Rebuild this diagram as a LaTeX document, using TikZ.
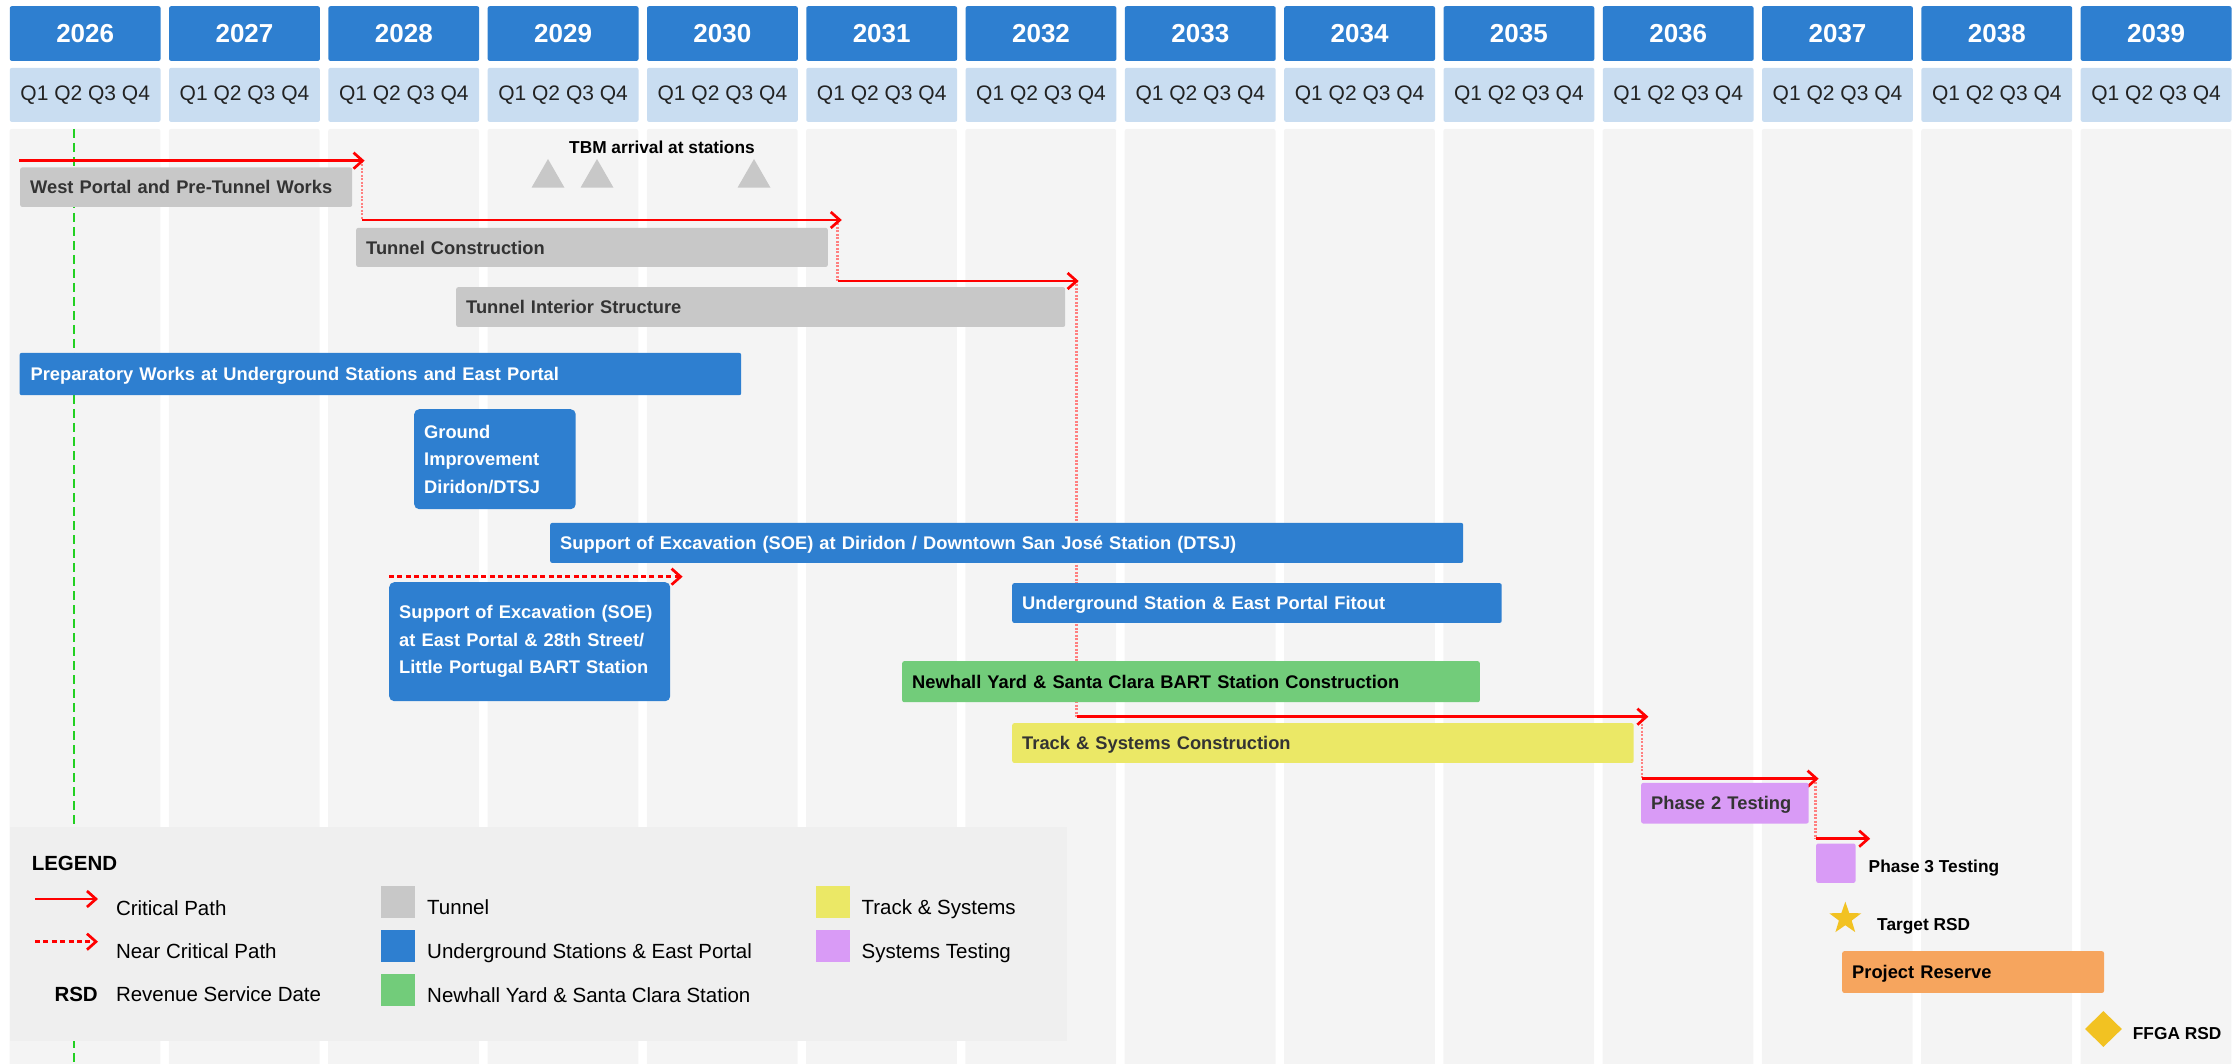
\documentclass[tikz,border=0pt]{standalone}
\usepackage{fontspec}
\setmainfont{Liberation Sans}
\usetikzlibrary{arrows.meta,shapes.geometric}

\definecolor{hdrblue}{HTML}{2E7FD0}
\definecolor{qtrblue}{HTML}{C9DDF1}
\definecolor{qtrtext}{HTML}{222222}
\definecolor{colbg}{HTML}{F4F4F4}
\definecolor{legbg}{HTML}{EFEFEF}
\definecolor{tunnelgray}{HTML}{C8C8C8}
\definecolor{stagreen}{HTML}{72CC7A}
\definecolor{trackyellow}{HTML}{EBE866}
\definecolor{testpurple}{HTML}{D99BF6}
\definecolor{reserveorange}{HTML}{F6A55E}
\definecolor{msgold}{HTML}{F2C222}
\definecolor{nowgreen}{HTML}{22D022}
\definecolor{critred}{HTML}{FF0000}
\definecolor{textdark}{HTML}{333333}

\newcommand{\barfont}{\fontsize{18.3pt}{27.5pt}\selectfont\bfseries}

\tikzset{
  yearbox/.style={anchor=north west, fill=hdrblue, rounded corners=2pt, minimum width=150.8pt,
    minimum height=54.7pt, inner sep=0pt, text=white, font=\fontsize{26pt}{30pt}\selectfont\bfseries},
  qtrbox/.style={anchor=north west, fill=qtrblue, rounded corners=2pt, minimum width=150.8pt,
    minimum height=54pt, inner sep=0pt, text=qtrtext, font=\fontsize{21pt}{25pt}\selectfont},
  bar/.style={anchor=north west, rounded corners=2pt, inner xsep=10pt, inner ysep=0pt,
    align=left, text height=13.5pt, text depth=0pt, font=\barfont},
  tallbar/.style={anchor=north west, rounded corners=5pt, fill=hdrblue, text=white,
    inner xsep=10pt, inner ysep=0pt, align=left, font=\barfont},
  crit/.style={draw=critred, line width=2.7pt, -{Straight Barb[length=9pt,width=16pt]}},
  nearcrit/.style={crit, dash pattern=on 5pt off 3.4pt},
  droplink/.style={draw=critred!50, line width=2.8pt, dash pattern=on 2pt off 1.5pt},
  nowline/.style={draw=nowgreen, line width=2pt, dash pattern=on 9pt off 5pt},
  mslabel/.style={anchor=base west, inner sep=0pt, font=\fontsize{17.3pt}{20pt}\selectfont\bfseries},
  legtitle/.style={anchor=base west, inner sep=0pt, font=\fontsize{20.5pt}{24pt}\selectfont\bfseries},
  legtext/.style={anchor=base west, inner sep=0pt, font=\fontsize{20.5pt}{24pt}\selectfont},
  swatch/.style={anchor=north west, minimum width=34pt, minimum height=32pt, inner sep=0pt},
}

\begin{document}
\begin{tikzpicture}[x=1pt,y=-1pt]
  \useasboundingbox (0,0) rectangle (2236,1064);
  \foreach \i in {0,...,13}{
    \pgfmathsetmacro{\xl}{9.6+159.3*\i}
    \pgfmathtruncatemacro{\yr}{2026+\i}
    \fill[colbg,rounded corners=2pt] (\xl,129) rectangle ++(150.8,950);
    \node[yearbox] (y\yr) at (\xl,6) {\yr};
    \node[qtrbox] (q\yr) at (\xl,67.7) {Q1 Q2 Q3 Q4};
  }
  \coordinate (now top) at (74,129);
  \coordinate (now bot) at (74,1064);
  \draw[nowline] (now top) -- (now bot);

  \foreach \n/\x/\y in {s1/19/160.7, e1/364.6/160.7, s2/362/220, e2/841.8/220,
    s3/837.8/281, e3/1078.6/281, s4/1076.5/716.7, e4/1648.4/716.7,
    s5/1642/778.7, e5/1818.6/778.7, s6/1815.5/838.7, e6/1870.2/838.7,
    n1/389/576.7, n2/682.6/576.7}
    \coordinate (\n) at (\x,\y);
  \draw[droplink] (s2 |- e1) -- (s2);
  \draw[droplink] (s3 |- e2) -- (s3);
  \draw[droplink] (s4 |- e3) -- (s4);
  \draw[droplink] (s5 |- e4) -- (s5);
  \draw[droplink] (s6 |- e5) -- (s6);
  \foreach \i in {1,...,6}
    \draw[crit] (s\i) -- (e\i);
  \draw[nearcrit] (n1) -- (n2);

  \node[mslabel] (tbm) at (569,154) {TBM arrival at stations};
  \foreach \c in {548,597,754}
    \fill[tunnelgray] (\c-16.5,187.7) -- (\c+16.5,187.7) -- (\c,159) -- cycle;

  \node[bar,fill=tunnelgray,text=textdark,text width=312pt,minimum height=39.4pt] (wp) at (20,167.3)
    {West Portal and Pre-Tunnel Works};
  \node[bar,fill=tunnelgray,text=textdark,text width=451.6pt,minimum height=39pt] (tc) at (356,227.7)
    {Tunnel Construction};
  \node[bar,fill=tunnelgray,text=textdark,text width=589pt,minimum height=39.7pt] (tis) at (456,287)
    {Tunnel Interior Structure};
  \node[bar,fill=hdrblue,text=white,text width=699.6pt,inner xsep=11pt,minimum height=42.3pt] (prep) at (19.4,352.7)
    {Preparatory Works at Underground Stations and East Portal};
  \node[tallbar,text width=141.5pt,minimum height=100pt] (gi) at (414,409)
    {Ground\\Improvement\\Diridon/DTSJ};
  \node[bar,fill=hdrblue,text=white,text width=893pt,minimum height=40pt] (soed) at (550,522.7)
    {Support of Excavation (SOE) at Diridon / Downtown San José Station (DTSJ)};
  \node[tallbar,text width=261pt,minimum height=119pt] (soee) at (389,582)
    {Support of Excavation (SOE)\\at East Portal \& 28th Street/\\Little Portugal BART Station};
  \node[bar,fill=hdrblue,text=white,text width=469.5pt,minimum height=39.7pt] (fit) at (1012,583)
    {Underground Station \& East Portal Fitout};
  \node[bar,fill=stagreen,text=black,text width=557.6pt,minimum height=41pt] (nh) at (902,661)
    {Newhall Yard \& Santa Clara BART Station Construction};
  \node[bar,fill=trackyellow,text=textdark,text width=601.5pt,minimum height=39.7pt] (ts) at (1012,723)
    {Track \& Systems Construction};
  \node[bar,fill=testpurple,text=textdark,text width=147.5pt,minimum height=40.6pt] (p2) at (1641,782.7)
    {Phase 2 Testing};
  \node[bar,fill=testpurple,inner xsep=0pt,minimum width=39.3pt,minimum height=39.4pt] (p3) at (1816,843.3) {};
  \node[mslabel] (p3t) at (1868.5,872.7) {Phase 3 Testing};
  \node[star,star points=5,star point ratio=2.5,fill=msgold,minimum size=33.6pt,inner sep=0pt] (trsd) at (1845.3,918.5) {};
  \node[mslabel] (trsdt) at (1877,930) {Target RSD};
  \node[bar,fill=reserveorange,text=black,text width=241.8pt,minimum height=41.7pt] (pr) at (1842,951)
    {Project Reserve};
  \node[diamond,fill=msgold,minimum width=37pt,minimum height=36pt,inner sep=0pt] (frsd) at (2103.4,1029) {};
  \node[mslabel] (frsdt) at (2132.7,1039.3) {FFGA RSD};

  \fill[legbg] (9.8,827.3) rectangle (1066.7,1040.7);
  \node[legtitle] (leg) at (31.6,870) {LEGEND};
  \coordinate (lc1) at (35,899);
  \coordinate (lc2) at (98,899);
  \coordinate (ln1) at (35,941.7);
  \coordinate (ln2) at (98,941.7);
  \draw[crit] (lc1) -- (lc2);
  \draw[nearcrit] (ln1) -- (ln2);
  \node[legtitle,anchor=base east] (rsd) at (98,1001.7) {RSD};
  \foreach \n/\y/\t in {cp/915/Critical Path, ncp/958.3/Near Critical Path, rsdt/1001.7/Revenue Service Date}
    \node[legtext] (\n) at (115.8,\y) {\t};
  \foreach \n/\x/\y/\c/\t in {tun/381/886/tunnelgray/Tunnel,
    usep/381/930/hdrblue/Underground Stations \& East Portal,
    nyard/381/974/stagreen/Newhall Yard \& Santa Clara Station,
    trk/815.4/886/trackyellow/Track \& Systems,
    sys/815.4/930/testpurple/Systems Testing}
    {\node[swatch,fill=\c] (sw\n) at (\x,\y) {};
     \node[legtext] (lt\n) at (\x+46,\y+28.5) {\t};}
\end{tikzpicture}
\end{document}
